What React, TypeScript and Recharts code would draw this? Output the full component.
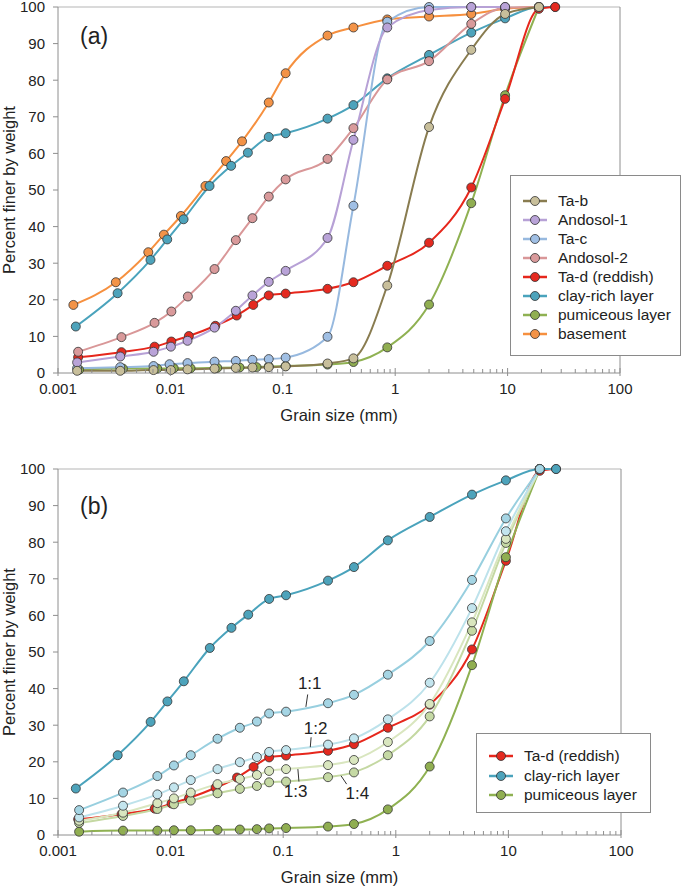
import { LineChart, Line, XAxis, YAxis, Legend, ReferenceLine, ReferenceDot } from 'recharts';

const FONT = '"Liberation Sans", Arial, Helvetica, sans-serif';
const AXIS = '#8e8e8e';
const TEXT = '#222';

// grain size (mm) / percent finer by weight, per sample
const tabSize = [0.00148, 0.00358, 0.00708, 0.0101, 0.0142, 0.0247, 0.0382, 0.0537, 0.075, 0.106, 0.25, 0.425, 0.85, 2, 4.75, 9.5, 19];
const tabPct = [0.6, 0.6, 0.8, 0.8, 1.0, 1.2, 1.4, 1.5, 1.6, 1.8, 2.6, 4.0, 23.9, 67.2, 88.3, 98.1, 100];

const ando1Size = [0.00148, 0.00358, 0.00708, 0.0101, 0.0142, 0.0247, 0.0382, 0.0537, 0.075, 0.106, 0.25, 0.425, 0.85, 2, 4.75, 9.5];
const ando1Pct = [2.9, 4.5, 5.8, 7.2, 8.8, 12.4, 17.0, 21.2, 24.9, 27.9, 36.9, 63.7, 94.4, 99.2, 100, 100];

const tacSize = [0.00148, 0.00358, 0.00708, 0.00983, 0.0142, 0.0247, 0.0382, 0.0537, 0.075, 0.106, 0.25, 0.425, 0.85, 2, 4.75, 9.5];
const tacPct = [1.3, 1.6, 1.9, 2.4, 2.7, 3.1, 3.3, 3.6, 3.8, 4.2, 9.9, 45.7, 96, 100, 100, 100];

const ando2Size = [0.00151, 0.00367, 0.00723, 0.0102, 0.0143, 0.0247, 0.0382, 0.0537, 0.075, 0.106, 0.25, 0.425, 0.85, 2, 4.75, 9.5, 19];
const ando2Pct = [5.8, 9.8, 13.7, 16.8, 20.9, 28.4, 36.3, 42.3, 48.2, 52.9, 58.5, 66.9, 80.2, 85.2, 95.4, 99.8, 100];

const tadSize = [0.00151, 0.00367, 0.00723, 0.0102, 0.0146, 0.0251, 0.0389, 0.0546, 0.075, 0.106, 0.25, 0.425, 0.85, 2, 4.75, 9.5, 19, 26.5];
const tadPct = [4.3, 5.7, 7.2, 8.6, 10.1, 12.9, 15.7, 18.6, 21.2, 21.7, 23.0, 24.8, 29.3, 35.6, 50.7, 74.9, 99.5, 100];

const claySize = [0.00144, 0.00339, 0.00665, 0.00937, 0.0131, 0.0223, 0.0347, 0.0489, 0.075, 0.106, 0.25, 0.425, 0.85, 2, 4.75, 9.5, 19, 26.5];
const clayPct = [12.7, 21.8, 30.9, 36.5, 42.0, 51.1, 56.6, 60.2, 64.5, 65.5, 69.5, 73.2, 80.5, 86.9, 93.0, 96.9, 100, 100];

const pumSize = [0.00154, 0.00378, 0.00763, 0.0107, 0.0151, 0.0261, 0.0412, 0.0584, 0.075, 0.106, 0.25, 0.425, 0.85, 2, 4.75, 9.5, 19];
const pumPct = [0.9, 1.2, 1.2, 1.3, 1.3, 1.4, 1.5, 1.6, 1.8, 1.9, 2.3, 3.0, 7.0, 18.7, 46.4, 75.9, 100];

const baseSize = [0.00137, 0.00327, 0.00636, 0.00875, 0.0124, 0.0205, 0.0313, 0.0434, 0.075, 0.106, 0.25, 0.425, 0.85, 2, 4.75, 9.5, 19];
const basePct = [18.6, 24.8, 33.0, 37.8, 42.9, 51.1, 57.9, 63.3, 73.9, 81.9, 92.2, 94.4, 96.6, 97.4, 98.1, 99.5, 100];

// mixtures of clay-rich layer and pumiceous layer (panel b), same sizes as pumiceous
const mix11Pct = [6.8, 11.6, 16.1, 19.0, 21.8, 26.3, 29.3, 31.0, 33.2, 33.7, 36.0, 38.3, 43.8, 53.0, 69.7, 86.5, 100];
const mix12Pct = [4.8, 8.0, 11.1, 13.0, 15.0, 18.0, 19.9, 21.3, 22.7, 23.2, 24.7, 26.4, 31.6, 41.6, 62.0, 83.0, 100];
const mix13Pct = [3.9, 6.1, 8.7, 10.0, 11.6, 13.9, 15.3, 16.4, 17.5, 18.0, 19.1, 20.5, 25.4, 35.8, 58.1, 80.9, 100];
const mix14Pct = [3.3, 5.2, 7.1, 8.4, 9.4, 11.4, 12.6, 13.4, 14.4, 14.6, 15.8, 17.1, 21.8, 32.4, 55.8, 79.8, 100];

// annotation text spot + leader line (data units)
const mixNotes = [
  { name: '1:1', tx: 0.172, ty: 41.6, x1: 0.165, y1: 38.4, x2: 0.159, y2: 35.0 },
  { name: '1:2', tx: 0.194, ty: 29.2, x1: 0.177, y1: 26.7, x2: 0.174, y2: 24.0 },
  { name: '1:3', tx: 0.129, ty: 12.1, x1: 0.138, y1: 14.6, x2: 0.135, y2: 18.0 },
  { name: '1:4', tx: 0.455, ty: 11.4, x1: 0.366, y1: 13.9, x2: 0.326, y2: 16.2 },
];

const xTickLabels = ['0.001', '0.01', '0.1', '1', '10', '100'];
const yTicks = [0, 10, 20, 30, 40, 50, 60, 70, 80, 90, 100];

const xTicks: number[] = [];
for (let k = -3; k <= 1; k++) {
  for (let m = 1; m <= 9; m++) xTicks.push(Number((m * Math.pow(10, k)).toPrecision(3)));
}
xTicks.push(100);

const pts = (sizes: number[], pct: number[]) => sizes.map((d, i) => ({ d, p: pct[i] }));

type Series = { name: string; line: string; fill: string; data: { d: number; p: number }[] };

const TAB: Series = { name: 'Ta-b', line: '#897c50', fill: '#c8bf9b', data: pts(tabSize, tabPct) };
const ANDO1: Series = { name: 'Andosol-1', line: '#b7a1d6', fill: '#b9a3d8', data: pts(ando1Size, ando1Pct) };
const TAC: Series = { name: 'Ta-c', line: '#97b9df', fill: '#a0bfe4', data: pts(tacSize, tacPct) };
const ANDO2: Series = { name: 'Andosol-2', line: '#d99798', fill: '#d99a9b', data: pts(ando2Size, ando2Pct) };
const TAD: Series = { name: 'Ta-d (reddish)', line: '#e6271c', fill: '#e42a20', data: pts(tadSize, tadPct) };
const CLAY: Series = { name: 'clay-rich layer', line: '#4aa3bc', fill: '#4da3bb', data: pts(claySize, clayPct) };
const PUM: Series = { name: 'pumiceous layer', line: '#8fb152', fill: '#90ae51', data: pts(pumSize, pumPct) };
const BASE: Series = { name: 'basement', line: '#f6903f', fill: '#f39347', data: pts(baseSize, basePct) };

const M11: Series = { name: '1:1', line: '#98cfdf', fill: '#a5d5e4', data: pts(pumSize, mix11Pct) };
const M12: Series = { name: '1:2', line: '#bde2eb', fill: '#c3e5ee', data: pts(pumSize, mix12Pct) };
const M13: Series = { name: '1:3', line: '#d9e6bf', fill: '#d9e6bf', data: pts(pumSize, mix13Pct) };
const M14: Series = { name: '1:4', line: '#c4d8a2', fill: '#c5d9a4', data: pts(pumSize, mix14Pct) };

function XTick({ x, y, payload }: any) {
  const lg = Math.log10(payload.value);
  const major = Math.abs(lg - Math.round(lg)) < 1e-6;
  return (
    <g>
      <line x1={x} x2={x} y1={major ? y + 3 : y} y2={y - (major ? 5 : 4)} stroke={AXIS} />
      {major && (
        <text x={x} y={y + 20.5} textAnchor="middle" fontSize={15} fill={TEXT}>
          {xTickLabels[Math.round(lg) + 3]}
        </text>
      )}
    </g>
  );
}

function XTitle({ viewBox }: any) {
  return (
    <text x={viewBox.x + viewBox.width / 2} y={viewBox.y + 48} textAnchor="middle" fontSize={16.5} fill={TEXT}>
      Grain size (mm)
    </text>
  );
}

function YTitle({ viewBox }: any) {
  const cy = viewBox.y + viewBox.height / 2;
  return (
    <text x={14.5} y={cy} transform={`rotate(-90, 14.5, ${cy})`} textAnchor="middle" fontSize={16.5} fill={TEXT}>
      Percent finer by weight
    </text>
  );
}

function LegendBox({ items, padTop, rowH }: { items: Series[]; padTop: number; rowH: number }) {
  return (
    <div
      style={{
        width: '100%',
        height: '100%',
        boxSizing: 'border-box',
        border: '1px solid #8a8a8a',
        background: '#fff',
        padding: `${padTop}px 0 0 12px`,
        fontFamily: FONT,
      }}
    >
      {items.map((s) => (
        <div key={s.name} style={{ display: 'flex', alignItems: 'center', height: rowH, fontSize: 15.5, color: TEXT, lineHeight: `${rowH}px` }}>
          <svg width={24} height={12} style={{ marginRight: 11, flexShrink: 0 }}>
            <line x1={0} x2={24} y1={6} y2={6} stroke={s.line} strokeWidth={2.5} />
            <circle cx={12} cy={6} r={4.5} fill={s.fill} stroke="#333" strokeWidth={0.8} />
          </svg>
          <span style={{ whiteSpace: 'nowrap' }}>{s.name}</span>
        </div>
      ))}
    </div>
  );
}

type PanelProps = {
  height: number;
  margin: { top: number; right: number; bottom: number; left: number };
  draw: Series[];
  legendItems: Series[];
  legendBox: { left: number; top: number; width: number; height: number; padTop: number; rowH: number };
  notes?: typeof mixNotes;
};

function Panel({ height, margin, draw, legendItems, legendBox, notes }: PanelProps) {
  return (
    <LineChart width={685} height={height} margin={margin}>
      <XAxis
        dataKey="d"
        type="number"
        scale="log"
        domain={[0.001, 100]}
        allowDataOverflow
        ticks={xTicks}
        interval={0}
        tick={<XTick />}
        tickLine={false}
        tickSize={0}
        tickMargin={0}
        height={30}
        stroke={AXIS}
        label={<XTitle />}
      />
      <YAxis
        dataKey="p"
        type="number"
        domain={[0, 100]}
        ticks={yTicks}
        interval={0}
        width={58}
        tickSize={5}
        tickMargin={8}
        stroke={AXIS}
        tick={{ fontSize: 15, fill: TEXT }}
        label={<YTitle />}
      />
      <ReferenceLine y={100} stroke="#b5b5b5" strokeWidth={1} />
      <ReferenceLine x={100} stroke={AXIS} strokeWidth={1} />
      {draw.map((s) => (
        <Line
          key={s.name}
          data={s.data}
          dataKey="p"
          name={s.name}
          type="monotone"
          stroke={s.line}
          strokeWidth={2}
          dot={{ r: 4.5, fill: s.fill, stroke: '#333', strokeWidth: 0.8, fillOpacity: 1 }}
          activeDot={false}
          isAnimationActive={false}
        />
      ))}
      {notes &&
        notes.map((n) => (
          <ReferenceLine
            key={`l${n.name}`}
            segment={[
              { x: n.x1, y: n.y1 },
              { x: n.x2, y: n.y2 },
            ]}
            stroke="#333"
            strokeWidth={1}
          />
        ))}
      {notes &&
        notes.map((n) => (
          <ReferenceDot
            key={`t${n.name}`}
            x={n.tx}
            y={n.ty}
            r={0}
            fill="none"
            stroke="none"
            label={{ value: n.name, position: 'center', fontSize: 17, fill: TEXT }}
          />
        ))}
      <Legend
        layout="vertical"
        align="center"
        verticalAlign="middle"
        wrapperStyle={{ left: legendBox.left, top: legendBox.top, width: legendBox.width, height: legendBox.height }}
        content={() => <LegendBox items={legendItems} padTop={legendBox.padTop} rowH={legendBox.rowH} />}
      />
    </LineChart>
  );
}

export default function App() {
  return (
    <div style={{ position: 'absolute', left: 0, top: 0, width: 685, height: 888, background: '#fff', fontFamily: FONT }}>
      <div style={{ position: 'absolute', left: 0, top: 0 }}>
        <Panel
          height={440}
          margin={{ top: 7, right: 65, bottom: 37, left: 0 }}
          draw={[BASE, PUM, CLAY, TAD, ANDO2, TAC, ANDO1, TAB]}
          legendItems={[TAB, ANDO1, TAC, ANDO2, TAD, CLAY, PUM, BASE]}
          legendBox={{ left: 510, top: 175, width: 171, height: 181, padTop: 15, rowH: 19 }}
        />
        <div style={{ position: 'absolute', left: 80, top: 23, fontSize: 23, lineHeight: '26px', color: TEXT }}>(a)</div>
      </div>
      <div style={{ position: 'absolute', left: 0, top: 440 }}>
        <Panel
          height={448}
          margin={{ top: 29, right: 64, bottom: 23, left: 0 }}
          draw={[TAD, PUM, CLAY, M14, M13, M12, M11]}
          legendItems={[TAD, CLAY, PUM]}
          legendBox={{ left: 476, top: 293, width: 175, height: 80, padTop: 12, rowH: 19.7 }}
          notes={mixNotes}
        />
        <div style={{ position: 'absolute', left: 80, top: 53, fontSize: 23, lineHeight: '26px', color: TEXT }}>(b)</div>
      </div>
    </div>
  );
}
